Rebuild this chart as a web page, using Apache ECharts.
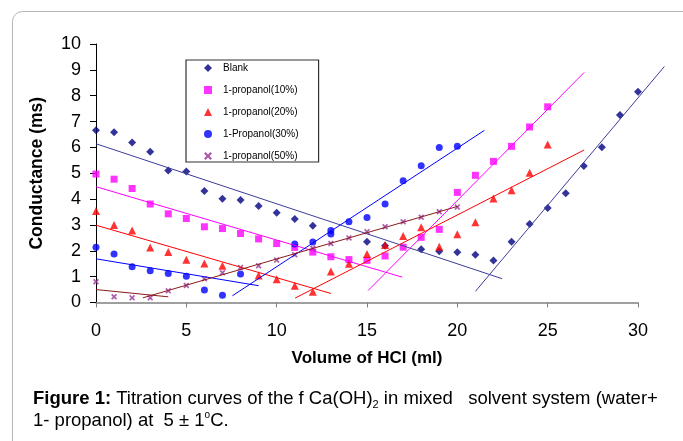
<!DOCTYPE html>
<html>
<head>
<meta charset="utf-8">
<script src="https://cdn.jsdelivr.net/npm/echarts@6/dist/echarts.min.js"></script>
<style>html,body{margin:0;padding:0;background:#fff}#c{width:683px;height:441px}</style>
</head>
<body>
<div id="c"></div>
<script>
// ---- data ----
var xTicks = [0, 5, 10, 15, 20, 25, 30];
var seriesNames = ['Blank', '1-propanol(10%)', '1-propanol(20%)', '1-Propanol(30%)', '1-propanol(50%)'];

var blankX = [0,1,2,3,4,5,6,7,8,9,10,11,12,15,16,18,19,20,21,22,23,24,25,26,27,28,29,30];
var blankY = [6.66,6.59,6.19,5.83,5.11,5.07,4.31,4.01,3.97,3.73,3.47,3.23,2.97,2.35,2.2,2.06,1.98,1.94,1.85,1.62,2.35,3.04,3.66,4.23,5.28,6.01,7.25,8.15];

var p10X = [0,1,2,3,4,5,6,7,8,9,10,11,12,13,14,15,16,17,18,19,20,21,22,23,24,25];
var p10Y = [4.97,4.77,4.41,3.81,3.43,3.25,2.93,2.86,2.67,2.46,2.28,2.13,1.95,1.77,1.66,1.63,1.8,2.14,2.52,2.83,4.26,4.92,5.46,6.04,6.79,7.57];

var p20X = [0,1,2,3,4,5,6,7,9,10,11,12,13,14,15,16,17,18,19,20,21,22,23,24,25];
var p20Y = [3.54,3.0,2.79,2.13,1.95,1.65,1.51,1.42,1.04,0.9,0.65,0.42,1.2,1.5,1.88,2.22,2.57,2.91,2.16,2.64,3.1,4.02,4.34,5.02,6.11];

var p30X = [0,1,2,3,4,5,6,7,8,11,12,13,13,14,15,16,17,18,19,20];
var p30Y = [2.14,1.88,1.38,1.23,1.12,1.02,0.48,0.28,1.1,2.26,2.34,2.79,2.65,3.12,3.29,3.81,4.71,5.29,6.0,6.04];

var p50X = [0,1,2,3,4,5,6,7,8,9,10,11,12,13,14,15,16,17,18,19,20];
var p50Y = [0.8,0.22,0.18,0.18,0.45,0.66,0.92,1.15,1.35,1.42,1.64,1.85,2.1,2.28,2.5,2.74,2.93,3.12,3.3,3.51,3.69];

// trend line end points [x1, y1, x2, y2]
var blankDown = [0, 6.14, 22.48, 0.92];
var blankUp   = [21.0, 0.43, 31.46, 9.13];
var p10Down   = [0, 4.48, 16.95, 0.98];
var p10Up     = [15.06, 0.46, 27.02, 8.9];
var p20Down   = [0, 2.99, 13.0, 0.35];
var p20Up     = [11.02, 0.17, 27.02, 5.9];
var p30Down   = [0, 1.69, 9.0, 0.65];
var p30Up     = [7.55, 0.26, 21.5, 6.66];
var p50Down   = [0, 0.5, 4.0, 0.22];
var p50Up     = [2.59, 0.18, 20.02, 3.72];

function pairs(xs, ys) { return xs.map(function (x, i) { return [x, ys[i]]; }); }
function seg(s) { return [[s[0], s[1]], [s[2], s[3]]]; }

var xSym = 'path://M0,2L2,0L5,3L8,0L10,2L7,5L10,8L8,10L5,7L2,10L0,8L3,5Z';

var scat = [
  {name: seriesNames[0], sym: 'diamond', size: 8, color: '#000080', data: pairs(blankX, blankY)},
  {name: seriesNames[1], sym: 'rect', size: 7, color: '#FF00FF', data: pairs(p10X, p10Y)},
  {name: seriesNames[2], sym: 'triangle', size: 8, color: '#FF0000', data: pairs(p20X, p20Y)},
  {name: seriesNames[3], sym: 'circle', size: 7, color: '#0000FF', data: pairs(p30X, p30Y)},
  {name: seriesNames[4], sym: xSym, size: 6, color: '#993399', data: pairs(p50X, p50Y)}
];
var trends = [
  {d: blankDown, c: '#3d3d99'}, {d: blankUp, c: '#3d3d99', wide: true},
  {d: p10Down, c: '#FF00FF'}, {d: p10Up, c: '#FF00FF'},
  {d: p20Down, c: '#FF0000'}, {d: p20Up, c: '#FF0000'},
  {d: p30Down, c: '#0000FF'}, {d: p30Up, c: '#0000FF'},
  {d: p50Down, c: '#8B1A1A'}, {d: p50Up, c: '#8B1A1A'}
];

var series = [];
scat.forEach(function (s) {
  series.push({
    type: 'scatter', name: s.name, symbol: s.sym, symbolSize: s.size,
    itemStyle: {color: s.color}, data: s.data, z: 3
  });
});
trends.forEach(function (t) {
  series.push({
    type: 'line', data: seg(t.d), symbol: 'none', clip: false, silent: true,
    xAxisIndex: t.wide ? 1 : 0, yAxisIndex: t.wide ? 1 : 0,
    lineStyle: {color: t.c, width: 1}, z: 4
  });
});

// same scale as the main grid (approx. 17.99 px per ml), extended to 32 ml
var pxPerMl = (683 - 45 - 96) / 30;
var wideRight = 683 - 96 - 32 * pxPerMl;

var chart = echarts.init(document.getElementById('c'), null, {renderer: 'canvas'});
chart.setOption({
  animation: false,
  backgroundColor: '#fff',
  grid: [
    {left: 96, right: 45, top: 44, bottom: 138.5},
    {left: 96, right: wideRight, top: 44, bottom: 138.5}
  ],
  xAxis: [{
    type: 'value', min: 0, max: 30, interval: 5,
    name: 'Volume of HCl (ml)', nameLocation: 'middle', nameGap: 47,
    nameTextStyle: {fontFamily: 'Arial, Liberation Sans', fontWeight: 'bold', fontSize: 17, color: '#000'},
    axisLine: {lineStyle: {color: '#808080', width: 1.5}},
    axisTick: {length: 5, lineStyle: {color: '#808080'}},
    axisLabel: {margin: 20, fontFamily: 'Arial, Liberation Sans', fontSize: 18, color: '#000',
      formatter: function (v) { return xTicks.indexOf(v) >= 0 ? String(v) : ''; }},
    splitLine: {show: false}
  }, {
    type: 'value', gridIndex: 1, min: 0, max: 32, show: false
  }],
  yAxis: [{
    type: 'value', min: 0, max: 10, interval: 1,
    name: 'Conductance (ms)', nameLocation: 'middle', nameGap: 50,
    nameTextStyle: {fontFamily: 'Arial, Liberation Sans', fontWeight: 'bold', fontSize: 17.5, color: '#000'},
    axisLine: {show: true, lineStyle: {color: '#000', width: 1}},
    axisTick: {show: true, length: 6, lineStyle: {color: '#000'}},
    axisLabel: {margin: 15, fontFamily: 'Arial, Liberation Sans', fontSize: 18, color: '#000'},
    splitLine: {show: false}
  }, {
    type: 'value', gridIndex: 1, min: 0, max: 10, show: false
  }],
  legend: {
    orient: 'vertical', left: 186, top: 60,
    data: seriesNames,
    itemWidth: 8, itemHeight: 8, itemGap: 12,
    padding: [3, 20, 1, 18],
    borderColor: '#333', borderWidth: 1.2,
    textStyle: {fontFamily: 'Arial, Liberation Sans', fontSize: 10, color: '#000', padding: [0, 0, 0, 6]}
  },
  graphic: [
    {type: 'rect', left: 10, top: 9, shape: {width: 800, height: 500, r: 10},
      style: {fill: 'none', stroke: '#b4b4b4', lineWidth: 1}, z: -1},
    {type: 'text', left: 33, top: 387, z: 10,
      style: {
        text: '{b|Figure 1:}{n| Titration curves of the f Ca(OH)}{s|2}{n| in mixed   solvent system (water+}\n{n|1- propanol) at  5 ± 1}{p|o}{n|C.}',
        rich: {
          b: {fontFamily: 'Arial, Liberation Sans', fontWeight: 'bold', fontSize: 18.5, lineHeight: 22, fill: '#000'},
          n: {fontFamily: 'Arial, Liberation Sans', fontSize: 18.5, lineHeight: 22, fill: '#000'},
          s: {fontFamily: 'Arial, Liberation Sans', fontSize: 11, lineHeight: 22, verticalAlign: 'bottom', padding: [12, 0, 0, 0], fill: '#000'},
          p: {fontFamily: 'Arial, Liberation Sans', fontSize: 10, lineHeight: 22, verticalAlign: 'top', padding: [0, 0, 8, 0], fill: '#000'}
        }
      }}
  ],
  series: series
});
</script>
</body>
</html>
